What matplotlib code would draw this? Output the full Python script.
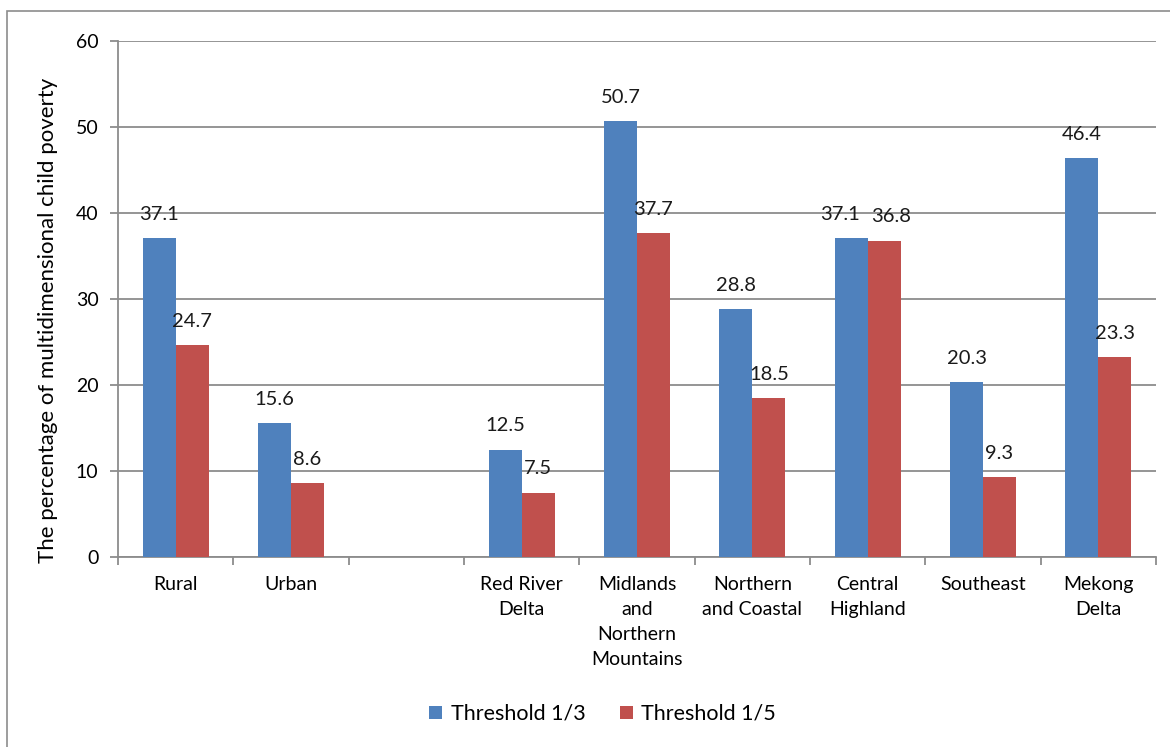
import matplotlib
matplotlib.use("Agg")
import matplotlib.pyplot as plt
import numpy as np
from matplotlib.patches import Rectangle

categories = ["Rural", "Urban", "", "Red River\nDelta", "Midlands\nand\nNorthern\nMountains",
              "Northern\nand Coastal", "Central\nHighland", "Southeast", "Mekong\nDelta"]
threshold_1_3 = [37.1, 15.6, np.nan, 12.5, 50.7, 28.8, 37.1, 20.3, 46.4]
threshold_1_5 = [24.7, 8.6, np.nan, 7.5, 37.7, 18.5, 36.8, 9.3, 23.3]
series_names = ["Threshold 1/3", "Threshold 1/5"]
yticks = [0, 10, 20, 30, 40, 50, 60]

plt.rcParams['font.family'] = ['Lato', 'DejaVu Sans']
fs = 14

fig = plt.figure(figsize=(11.70, 7.47), dpi=100)
W, H = 1170, 747
ax = fig.add_axes([118 / W, 1 - 557 / H, (1156 - 118) / W, (557 - 41) / H])

# outer chart border (left and top visible)
fig.patches.append(Rectangle((7 / W, -0.1), 1.2, (1 - 11 / H) + 0.1, transform=fig.transFigure,
                             fill=False, edgecolor='#8c8c8c', linewidth=1.2))

x = np.arange(len(categories))
bw = 0.286
blue, red = '#4F81BD', '#C0504D'
b1 = ax.bar(x - bw / 2, threshold_1_3, bw, color=blue, label=series_names[0], zorder=3)
b2 = ax.bar(x + bw / 2, threshold_1_5, bw, color=red, label=series_names[1], zorder=3)

for si, (bars, vals) in enumerate(((b1, threshold_1_3), (b2, threshold_1_5))):
    other = threshold_1_5 if si == 0 else threshold_1_3
    for i, (rect, v) in enumerate(zip(bars, vals)):
        if np.isnan(v):
            continue
        dx = 0
        # push neighbouring labels apart when the two values are nearly equal
        if abs(v - other[i]) < 2:
            dx = -8 if si == 0 else 5
        ax.annotate(f"{v:.1f}", (rect.get_x() + rect.get_width() / 2, v),
                    xytext=(dx, 13), textcoords='offset points',
                    ha='center', va='baseline', fontsize=fs + 0.5, color='#1a1a1a')

ax.set_xlim(-0.5, len(categories) - 0.5)
ax.set_ylim(0, 60)
ax.set_yticks(yticks)
ax.yaxis.grid(True, color='#8c8c8c', linewidth=1.3, zorder=0)
ax.set_axisbelow(True)

ax.set_xticks(np.arange(len(categories) + 1) - 0.5, minor=False)
ax.set_xticklabels([])
ax.set_xticks(x, minor=True)
ax.set_xticklabels(categories, minor=True, fontsize=fs, linespacing=1.55, va='top')
ax.tick_params(axis='x', which='minor', length=0, pad=14)
ax.tick_params(axis='x', which='major', length=6, color='#8c8c8c', width=1.3)
ax.tick_params(axis='y', length=6, color='#8c8c8c', width=1.3, labelsize=fs, pad=8)

for s in ['top', 'right']:
    ax.spines[s].set_visible(False)
for s in ['left', 'bottom']:
    ax.spines[s].set_color('#8c8c8c')
    ax.spines[s].set_linewidth(1.3)

fig.text(48 / W, 1 - 320 / H, "The percentage of multidimensional child poverty",
         rotation=90, ha='center', va='center', fontsize=16)

fig.legend(handles=[b1, b2], labels=series_names, loc='center', bbox_to_anchor=(0.515, 1 - 714 / H),
           ncol=2, frameon=False, fontsize=fs + 1.5, handlelength=0.6, handleheight=0.6,
           handletextpad=0.4, columnspacing=1.6)

fig.savefig("out.png", dpi=100)
